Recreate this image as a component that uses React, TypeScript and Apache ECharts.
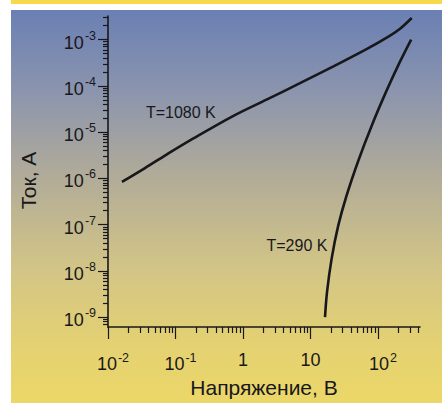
import React, { useEffect, useRef } from 'react';
import * as echarts from 'echarts';

// Current–voltage curves (log–log)
const curve1080: [number, number][] = [
  [0.0161, 8.4e-7],
  [0.0353, 1.67e-6],
  [0.0748, 3.31e-6],
  [0.1815, 7.2e-6],
  [0.711, 2.22e-5],
  [2.27, 5.09e-5],
  [6.99, 1.14e-4],
  [21.5, 2.61e-4],
  [68.7, 6.29e-4],
  [151, 1.22e-3],
  [212, 1.71e-3],
  [316, 2.92e-3],
];

const curve290: [number, number][] = [
  [16.4, 1.0e-9],
  [17.6, 3.56e-9],
  [20.6, 1.87e-8],
  [25.7, 9.4e-8],
  [33.9, 4.06e-7],
  [51.4, 2.47e-6],
  [81.5, 1.43e-5],
  [132, 7.5e-5],
  [210, 3.25e-4],
  [310, 1.0e-3],
];

const seriesNames = ['T=1080 K', 'T=290 K'];
const labelAt: [number, number][] = [
  [0.12, 2.6e-5],
  [6.3, 3.5e-8],
];

// Axis extents and decade tick exponents
const X_MIN = 0.01;
const X_MAX = 419;
const Y_MIN = 6.14e-10;
const Y_MAX = 3.23e-3;
const xDecades = [-2, -1, 0, 1, 2];
const yDecades = [-9, -8, -7, -6, -5, -4, -3];

const FONT = '"Liberation Sans", Arial, Helvetica, sans-serif';
const INK = '#18181c';

function minorLogs(lo: number, hi: number): number[] {
  const out: number[] = [];
  for (let d = Math.floor(lo); d <= Math.ceil(hi); d++) {
    for (let k = 2; k <= 9; k++) {
      const v = d + Math.log10(k);
      if (v > lo && v < hi) out.push(v);
    }
  }
  return out;
}

export default function App() {
  const ref = useRef<HTMLDivElement>(null);

  useEffect(() => {
    if (!ref.current) return;
    const chart = echarts.init(ref.current, undefined, { renderer: 'svg' });

    const xlo = Math.log10(X_MIN);
    const xhi = Math.log10(X_MAX);
    const ylo = Math.log10(Y_MIN);
    const yhi = Math.log10(Y_MAX);

    const rich = {
      s: { width: 10, fontSize: 18, fontFamily: FONT },
      a: { fontSize: 18, color: INK, fontFamily: FONT },
      b: { fontSize: 12.5, color: INK, fontFamily: FONT, padding: [0, 0, 12, 1] },
    };
    const richY = {
      a: { fontSize: 18, color: INK, fontFamily: FONT, padding: [6, 0, 0, 0] },
      b: { fontSize: 12.5, color: INK, fontFamily: FONT, padding: [0, 0, 8, 1] },
    };

    const tickLine = { color: INK, width: 1.2 };

    const xTickAxisBase = {
      type: 'value' as const,
      gridIndex: 0,
      min: xlo,
      max: xhi,
      position: 'bottom' as const,
      axisLine: { show: false, onZero: false },
      splitLine: { show: false },
    };
    const yTickAxisBase = {
      type: 'value' as const,
      gridIndex: 0,
      min: ylo,
      max: yhi,
      position: 'left' as const,
      axisLine: { show: false, onZero: false },
      splitLine: { show: false },
    };

    chart.setOption({
      animation: false,
      backgroundColor: 'transparent',
      grid: { left: 108, top: 16, width: 312, height: 317, containLabel: false },
      xAxis: [
        {
          type: 'log',
          logBase: 10,
          min: X_MIN,
          max: X_MAX,
          gridIndex: 0,
          position: 'bottom',
          axisLine: { show: true, onZero: false, lineStyle: { color: INK, width: 1.6 } },
          axisTick: { show: false },
          axisLabel: { show: false },
          splitLine: { show: false },
          name: 'Напряжение, В',
          nameLocation: 'middle',
          nameGap: 50,
          nameTextStyle: { fontSize: 21, color: INK, fontFamily: FONT },
        },
        {
          ...xTickAxisBase,
          axisTick: { show: true, customValues: xDecades, length: 12, lineStyle: tickLine },
          axisLabel: {
            show: true,
            customValues: xDecades,
            margin: 24,
            rich,
            formatter: (v: number) => {
              if (v === 0) return '{a|1}';
              if (v === 1) return '{a|10}';
              return `{s|}{a|10}{b|${v}}`;
            },
          },
        },
        {
          ...xTickAxisBase,
          axisTick: { show: true, customValues: minorLogs(xlo, xhi), length: 6, lineStyle: tickLine },
          axisLabel: { show: false },
        },
      ],
      yAxis: [
        {
          type: 'log',
          logBase: 10,
          min: Y_MIN,
          max: Y_MAX,
          gridIndex: 0,
          position: 'left',
          axisLine: { show: true, onZero: false, lineStyle: { color: INK, width: 1.6 } },
          axisTick: { show: false },
          axisLabel: { show: false },
          splitLine: { show: false },
          name: 'Ток, А',
          nameLocation: 'middle',
          nameGap: 69,
          nameRotate: 90,
          nameTextStyle: { fontSize: 21, color: INK, fontFamily: FONT, padding: [0, 18, 0, 0] },
        },
        {
          ...yTickAxisBase,
          axisTick: { show: true, customValues: yDecades, length: 10, lineStyle: tickLine },
          axisLabel: {
            show: true,
            customValues: yDecades,
            margin: 12,
            rich: richY,
            formatter: (v: number) => `{a|10}{b|${v}}`,
          },
        },
        {
          ...yTickAxisBase,
          axisTick: { show: true, customValues: minorLogs(ylo, yhi), length: 5, lineStyle: tickLine },
          axisLabel: { show: false },
        },
      ],
      series: [curve1080, curve290].map((data, i) => ({
        type: 'line',
        name: seriesNames[i],
        xAxisIndex: 0,
        yAxisIndex: 0,
        data,
        smooth: 0.35,
        showSymbol: false,
        symbol: 'none',
        lineStyle: { color: INK, width: 2.6 },
        markPoint: {
          symbol: 'circle',
          symbolSize: 1,
          itemStyle: { color: 'rgba(0,0,0,0)' },
          label: {
            show: true,
            position: 'inside',
            formatter: seriesNames[i],
            fontSize: 16,
            color: INK,
            fontFamily: FONT,
          },
          data: [{ coord: labelAt[i] }],
        },
      })),
    });

    return () => chart.dispose();
  }, []);

  return (
    <div
      style={{
        position: 'fixed',
        left: 0,
        top: 0,
        width: 442,
        height: 403,
        background: '#ffffff',
        overflow: 'hidden',
      }}
    >
      <div
        style={{ position: 'absolute', left: 11, top: 0, width: 431, height: 4, background: '#f8d94c' }}
      />
      <div
        style={{
          position: 'absolute',
          left: 11,
          top: 10,
          width: 431,
          height: 393,
          background:
            'linear-gradient(to bottom, #6a7fb3 0%, #8a94ae 20%, #b2ac98 43%, #d3c586 66%, #e4d172 85%, #ecd768 100%)',
        }}
      />
      <div ref={ref} style={{ position: 'absolute', left: 0, top: 0, width: 442, height: 403 }} />
    </div>
  );
}
